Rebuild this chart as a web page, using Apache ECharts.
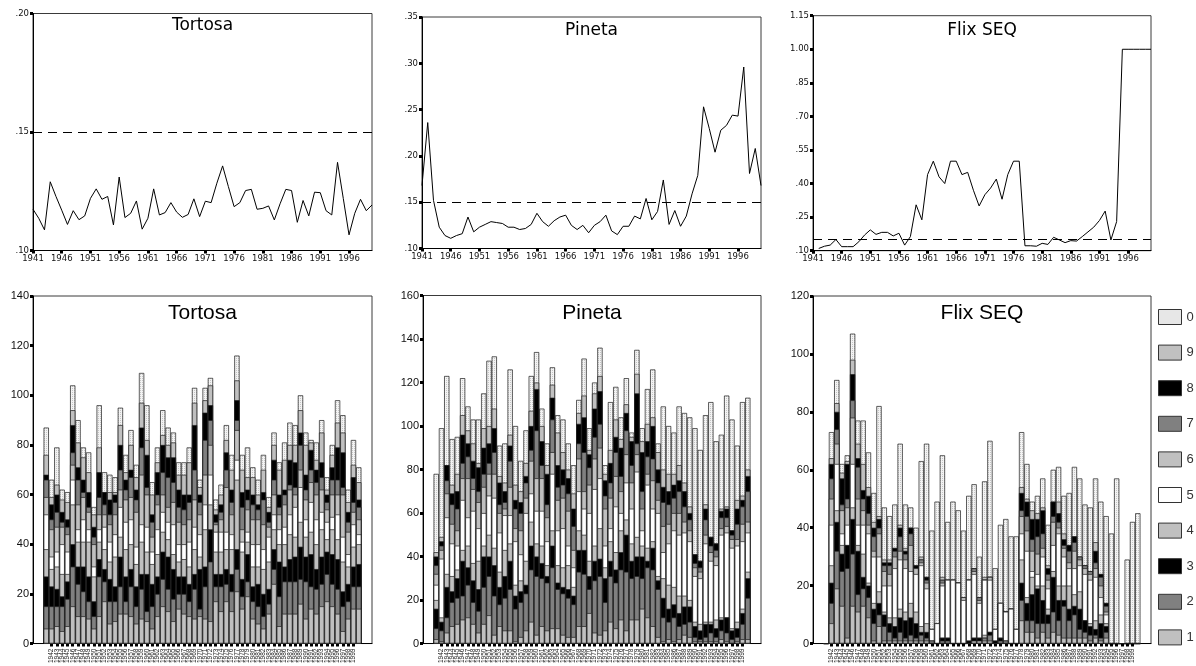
<!DOCTYPE html>
<html><head><meta charset="utf-8">
<script src="https://cdn.jsdelivr.net/npm/echarts@6/dist/echarts.min.js"></script>
<style>html,body{margin:0;padding:0;background:#fff}#c{width:1196px;height:666px}</style>
</head><body><div id="c"></div>
<script>
// ---------- categories ----------
const years = ['1941','1942','1943','1944','1945','1946','1947','1948','1949','1950',
'1951','1952','1953','1954','1955','1956','1957','1958','1959','1960',
'1961','1962','1963','1964','1965','1966','1967','1968','1969','1970',
'1971','1972','1973','1974','1975','1976','1977','1978','1979','1980',
'1981','1982','1983','1984','1985','1986','1987','1988','1989','1990',
'1991','1992','1993','1994','1995','1996','1997','1998','1999','2000'];
const stations = ['Tortosa','Pineta','Flix SEQ'];
const refLevel = 0.15;

// ---------- top row: ratio series ----------
const tortosaRatio = [.1174,.1136,.1087,.129,.1228,.117,.111,.1168,.113,.1146,
.122,.126,.1216,.1228,.1108,.131,.1139,.1157,.1209,.109,
.1136,.126,.115,.116,.1202,.1162,.114,.1152,.1218,.1143,
.1208,.1202,.1284,.1357,.127,.1185,.1202,.1253,.1258,.1174,
.1178,.1188,.1129,.1197,.1258,.1253,.1119,.1211,.1146,.1246,
.1244,.1168,.115,.1372,.122,.1066,.1157,.1216,.1168,.1192];
const pinetaRatio = [.168,.236,.152,.123,.114,.111,.114,.116,.134,.118,
.123,.126,.129,.128,.127,.123,.123,.1205,.1216,.126,
.138,.129,.124,.130,.134,.136,.125,.1205,.125,.117,
.125,.129,.136,.119,.115,.124,.124,.135,.132,.154,
.131,.140,.174,.126,.141,.124,.135,.159,.179,.253,
.2295,.204,.2277,.233,.244,.243,.296,.181,.208,.168];
const flixRatio = [null,.11,.12,.125,.15,.118,.118,.118,.14,.17,
.193,.173,.182,.182,.166,.178,.125,.163,.305,.238,
.44,.50,.43,.40,.50,.50,.44,.45,.37,.30,
.35,.38,.42,.33,.44,.50,.50,.122,.122,.12,
.133,.128,.16,.148,.136,.145,.143,.163,.184,.205,
.235,.277,.148,.23,1.0,1.0,1.0,1.0,1.0,1.0];

// ---------- bottom row: upper edge of digit classes 1..9 and bar total (class 0 on top), per year ----------
const tortosaEdges = [
[6,15,27,38,52,59,66,68,76,87],[6,15,23,30,35,46,50,56,59,66],[7,15,22,31,37,47,53,60,64,79],[5,15,19,28,40,47,49,53,58,62],
[7,18,25,28,37,44,47,50,57,61],[15,31,40,56,66,72,77,88,94,104],[11,24,31,41,46,56,66,71,81,90],[11,21,31,41,50,59,61,66,75,79],
[10,17,27,41,46,53,55,61,69,77],[6,11,17,27,31,40,43,47,52,55],[11,27,34,41,46,52,59,69,79,96],[17,25,30,38,47,52,56,61,61,69],
[8,17,26,33,41,48,52,58,61,68],[9,17,23,35,44,52,57,60,61,67],[12,23,35,43,55,62,70,80,88,95],[12,17,27,38,49,58,62,66,69,76],
[11,23,30,40,50,59,67,70,80,86],[8,15,23,32,39,53,58,62,67,72],[10,22,28,41,48,68,79,87,97,109],[9,13,28,37,47,60,63,76,82,96],
[6,15,24,32,37,43,49,52,60,65],[11,20,27,36,46,56,60,69,73,79],[15,26,37,45,53,60,69,80,84,94],[13,22,35,42,49,55,67,75,80,87],
[9,18,30,36,48,57,65,75,81,85],[14,20,27,33,40,49,55,62,68,73],[12,20,27,34,40,48,54,60,68,73],[11,17,24,31,41,50,57,60,73,79],
[10,22,28,38,47,58,70,88,97,103],[11,14,30,35,44,52,57,60,63,66],[10,23,31,46,56,68,82,93,98,103],[9,33,46,56,68,80,90,96,104,107],
[17,23,28,37,45,48,49,52,54,58],[13,23,28,37,45,50,53,56,60,64],[17,24,30,38,45,63,70,77,82,88],[13,21,28,38,44,52,57,62,70,76],
[21,30,38,66,74,86,90,98,106,116],[14,19,26,37,41,46,55,61,70,76],[19,25,36,41,45,54,58,62,67,79],[10,17,23,31,40,50,56,60,67,71],
[8,15,24,31,40,50,54,56,60,66],[6,11,20,30,38,48,58,61,70,76],[12,16,22,33,43,47,49,53,55,59],[24,30,38,46,52,60,66,74,80,85],
[7,19,33,40,46,52,55,60,70,73],[12,25,31,40,47,56,60,62,74,81],[12,25,34,44,52,62,64,74,80,89],[12,25,35,43,55,60,63,73,80,88],
[16,26,39,49,63,70,80,85,94,100],[10,25,35,43,50,58,62,68,80,85],[14,23,36,45,57,65,70,78,81,82],[12,22,30,40,50,60,65,70,74,81],
[15,24,35,46,53,62,67,73,85,90],[17,28,37,42,49,54,57,60,62,67],[15,24,36,46,51,60,66,71,76,80],[12,22,34,42,52,60,66,79,89,98],
[5,15,21,33,43,60,63,77,85,92],[10,17,24,31,36,45,49,53,57,62],[14,23,31,39,48,53,57,67,72,82],[14,23,32,40,44,50,55,58,65,71]];

const pinetaEdges = [
[2,7,16,20,27,32,36,40,42,78],[1,6,10,12,39,43,45,47,49,99],[5,12,26,32,58,69,75,82,82,123],[8,19,24,31,46,55,64,69,73,94],
[9,21,30,34,45,52,62,70,78,95],[11,22,38,43,66,76,83,96,105,122],[12,27,35,45,58,76,86,92,98,109],[9,19,29,37,61,71,76,84,92,103],
[5,15,25,38,53,65,70,81,83,103],[9,26,40,45,60,72,78,90,99,115],[13,31,40,50,68,78,83,92,100,130],[4,22,36,44,67,78,88,99,108,132],
[8,18,26,33,51,60,64,74,77,91],[6,21,31,43,59,62,65,70,74,92],[6,25,38,46,59,72,84,91,96,126],[1,16,22,27,47,53,62,66,73,100],
[3,19,24,29,41,52,60,65,70,84],[6,23,27,38,60,67,74,77,83,98],[10,34,45,56,69,84,89,100,107,123],[4,31,40,46,61,76,98,117,120,134],
[8,30,37,45,61,76,82,93,100,108],[6,28,31,36,47,58,64,78,82,92],[7,35,45,52,78,88,103,113,119,127],[7,25,28,36,52,66,72,82,97,105],
[4,23,26,35,53,67,73,80,88,103],[3,21,25,36,45,61,69,76,80,92],[3,18,22,26,35,43,54,62,69,82],[8,33,43,52,70,85,92,101,106,112],
[8,32,43,50,62,70,88,104,114,131],[14,25,31,38,60,73,81,87,89,99],[5,29,38,45,71,85,95,108,115,120],[4,31,39,53,76,90,101,116,123,136],
[6,19,30,35,45,62,68,75,78,82],[10,31,38,47,53,67,74,83,89,111],[7,28,34,42,63,77,88,95,103,118],[11,34,42,52,60,70,77,90,94,104],
[6,33,50,57,74,87,98,106,110,122],[11,30,38,46,62,74,82,93,95,97],[11,31,40,49,79,87,92,115,124,135],[16,30,40,45,52,62,70,88,93,99],
[12,35,38,44,73,78,86,93,101,117],[8,34,44,47,62,75,85,100,104,126],[3,25,29,31,60,66,74,80,88,92],[1,12,21,30,42,54,65,72,80,109],
[2,10,16,27,46,55,64,70,78,100],[1,12,18,26,52,60,67,73,78,97],[2,8,14,22,50,60,70,75,82,109],[4,9,17,22,51,56,63,70,74,106],
[3,10,17,20,47,52,57,60,63,104],[1,3,8,10,31,35,37,41,41,99],[1,2,6,9,30,33,35,38,38,89],[1,3,9,10,46,50,57,62,64,105],
[1,5,9,10,38,42,45,49,49,111],[1,3,7,11,36,40,43,46,46,93],[2,6,11,12,50,53,58,61,62,96],[1,5,12,12,51,54,58,62,63,114],
[0,2,6,7,44,48,50,52,52,103],[1,3,7,10,45,48,55,62,66,91],[2,9,14,16,47,55,63,66,68,111],[2,21,30,33,51,56,70,77,80,113]];

const flixEdges = [
[0,0,0,0,0,0,0,0,0,0],[7,14,21,27,41,50,57,62,64,73],[19,32,42,46,62,69,74,80,83,91],[13,25,31,34,38,46,48,57,59,62],
[2,26,34,34,41,47,50,62,63,65],[13,31,43,47,62,78,84,93,98,107],[11,17,32,34,41,50,61,64,69,77],[13,19,23,31,41,46,50,53,62,77],
[9,16,20,21,38,41,45,51,54,66],[1,7,12,14,30,32,37,40,42,52],[6,10,14,18,30,38,40,43,44,82],[1,6,10,11,20,25,27,28,29,47],
[1,4,7,9,20,24,27,28,29,44],[1,2,6,9,26,30,32,33,33,48],[1,4,9,12,29,32,37,40,41,69],[1,2,8,11,26,29,31,32,33,48],
[1,3,9,14,25,34,38,40,40,47],[1,2,7,11,24,26,26,27,27,40],[1,3,4,6,27,28,29,29,30,63],[1,2,4,7,19,21,22,23,23,69],
[0,1,1,1,5,5,5,5,5,39],[0,0,0,0,7,7,7,7,7,49],[0,1,2,2,20,21,22,22,23,65],[0,1,2,2,22,22,22,22,22,42],
[0,0,0,0,22,22,22,22,22,49],[0,0,0,0,21,21,21,21,21,46],[0,0,0,0,15,16,16,16,16,39],[0,0,1,1,22,22,22,22,22,51],
[1,1,2,2,24,25,26,26,26,55],[1,1,2,2,14,15,16,16,16,30],[1,2,2,3,22,22,22,22,23,56],[1,3,4,4,22,23,23,23,23,70],
[0,0,1,1,5,5,5,5,5,26],[0,1,2,2,14,14,14,14,14,41],[0,1,1,1,11,11,11,11,11,43],[0,0,0,0,12,12,12,12,12,37],
[0,0,0,0,5,5,5,5,5,37],[8,15,21,29,38,44,46,52,54,73],[4,8,14,16,32,39,44,49,50,62],[4,8,17,23,25,32,36,43,46,49],
[2,7,19,20,24,31,37,43,45,51],[4,7,15,20,30,33,38,46,47,57],[2,7,10,12,19,22,24,26,27,41],[4,11,23,25,34,42,44,49,49,60],
[3,8,15,20,38,40,42,45,49,61],[2,13,15,20,30,33,34,36,38,51],[2,8,12,20,26,28,32,34,34,52],[2,10,13,17,26,32,35,37,37,61],
[2,5,12,18,27,29,30,30,30,57],[2,4,8,8,24,26,27,27,27,48],[1,3,6,7,22,24,25,25,25,47],[2,3,5,8,23,26,28,32,35,57],
[1,2,7,10,16,20,23,24,24,49],[2,4,6,7,10,11,13,14,14,44],[0,0,0,0,0,0,0,0,0,38],[0,0,0,0,0,0,0,0,0,57],
[0,0,0,0,0,0,0,0,0,0],[0,0,0,0,0,0,0,0,0,29],[0,0,0,0,0,0,0,0,0,42],[0,0,0,0,0,0,0,0,0,45]];

const classNames = ['0','9','8','7','6','5','4','3','2','1']; // legend order, also back-to-front draw order
const classEdgeIndex = {'1':0,'2':1,'3':2,'4':3,'5':4,'6':5,'7':6,'8':7,'9':8,'0':9};

// ---------- styling ----------
function makeDots(){
  const c = document.createElement('canvas'); c.width = 2; c.height = 2;
  const g = c.getContext('2d');
  g.fillStyle = '#f3f3f3'; g.fillRect(0,0,2,2);
  g.fillStyle = '#c6c6c6'; g.fillRect(0,0,1,1);
  return c;
}
const dotted = {image: makeDots(), repeat: 'repeat'};
const classColor = {'1':'#c0c0c0','2':'#808080','3':'#000000','4':'#c0c0c0','5':'#ffffff',
                    '6':'#c0c0c0','7':'#808080','8':'#000000','9':'#c0c0c0','0':dotted};

const topGrids = [
  {left:33, top:13.5, width:339, height:237},
  {left:422, top:17, width:339, height:231.5},
  {left:813, top:15.7, width:338, height:235}
];
const topY = [
  {min:0.10, max:0.20, interval:0.05},
  {min:0.10, max:0.35, interval:0.05},
  {min:0.10, max:1.15, interval:0.15}
];
const botGrids = [
  {left:33, top:296, width:339, height:349},
  {left:423, top:295.5, width:338, height:349.5},
  {left:813, top:296, width:338, height:350}
];
const botMax = [140, 160, 120];
const ratios = [tortosaRatio, pinetaRatio, flixRatio];
const edges = [tortosaEdges, pinetaEdges, flixEdges];

const PAD = 2;
const padCats = ['',''].concat(years).concat(['','']);
function pad(arr){ return [null,null].concat(arr).concat([null,null]); }
const fmtRatio = v => { const s = (Math.round(v*100)/100).toFixed(2); return s.charAt(0)==='0' ? s.slice(1) : s; };

const grid = [], xAxis = [], yAxis = [], series = [], graphic = [];

topGrids.forEach((g,i) => {
  grid.push(Object.assign({show:true, borderColor:'#3a3a3a', borderWidth:1, backgroundColor:'transparent'}, g));
  xAxis.push({gridIndex:i, type:'category', data:years, boundaryGap:false,
    axisLine:{show:true, lineStyle:{color:'#000', width:1}},
    axisTick:{show:true, interval:4, length:3, lineStyle:{color:'#000', width:3}},
    axisLabel:{interval:4, fontFamily:'DejaVu Sans', fontSize:8.5, color:'#111', margin:4},
    splitLine:{show:false}});
  yAxis.push(Object.assign({gridIndex:i, type:'value',
    axisLine:{show:true, lineStyle:{color:'#000', width:1}},
    axisTick:{show:true, length:3, lineStyle:{color:'#000', width:3}},
    axisLabel:{formatter:fmtRatio, fontFamily:'DejaVu Sans', fontSize:8.5, color:'#111', margin:4},
    splitLine:{show:false}}, topY[i]));
  series.push({type:'line', name:stations[i]+' ratio', xAxisIndex:i, yAxisIndex:i, data:ratios[i],
    symbol:'none', lineStyle:{color:'#000', width:1}, itemStyle:{color:'#000'}, z:5,
    markLine:{silent:true, symbol:['none','none'], label:{show:false},
      lineStyle:{color:'#000', width:1, type:[9,6]}, data:[{yAxis:refLevel}]}});
  graphic.push({type:'text', x:g.left + g.width/2, y: i===0 ? 26 : 31, z:10,
    style:{text:stations[i], font:'17px "DejaVu Sans"', fill:'#000', align:'center', verticalAlign:'middle',
           textAlign:'center', textVerticalAlign:'middle'}});
});

botGrids.forEach((g,j) => {
  const k = j + 3;
  grid.push(Object.assign({show:true, borderColor:'#3a3a3a', borderWidth:1, backgroundColor:'transparent'}, g));
  xAxis.push({gridIndex:k, type:'category', data:padCats, boundaryGap:true,
    axisLine:{show:true, lineStyle:{color:'#000', width:1}},
    axisTick:{show:true, alignWithLabel:true, length:3, lineStyle:{color:'#000', width:3},
      interval:(idx) => idx >= PAD && idx < PAD + years.length},
    axisLabel:{interval:(idx) => idx >= PAD && idx < PAD + years.length, rotate:90,
      fontFamily:'Liberation Sans', fontSize:6.5, color:'#222', margin:5},
    splitLine:{show:false}});
  yAxis.push({gridIndex:k, type:'value', min:0, max:botMax[j], interval:20,
    axisLine:{show:true, lineStyle:{color:'#000', width:1}},
    axisTick:{show:true, length:3, lineStyle:{color:'#000', width:3}},
    axisLabel:{fontFamily:'Liberation Sans', fontSize:11, color:'#111', margin:4},
    splitLine:{show:false}});
  classNames.forEach(name => {
    const idx = classEdgeIndex[name];
    series.push({type:'bar', name:name, xAxisIndex:k, yAxisIndex:k,
      data: pad(edges[j].map(r => r[idx])),
      barGap:'-100%', barCategoryGap:'0%',
      itemStyle:{color:classColor[name], borderColor:'#1e1e1e', borderWidth:0.7},
      emphasis:{disabled:true}});
  });
  graphic.push({type:'text', x:g.left + g.width/2, y:313, z:10,
    style:{text:stations[j], font:'21px "Liberation Sans"', fill:'#000', align:'center', verticalAlign:'middle',
           textAlign:'center', textVerticalAlign:'middle'}});
});

const chart = echarts.init(document.getElementById('c'), null, {renderer:'canvas'});
chart.setOption({
  animation:false,
  backgroundColor:'#fff',
  grid, xAxis, yAxis, series, graphic,
  legend:{show:true, orient:'vertical', left:1158, top:309, padding:0, itemWidth:23, itemHeight:15, itemGap:19.6,
    icon:'rect', data:classNames, selectedMode:false,
    textStyle:{fontFamily:'Liberation Sans', fontSize:13, color:'#333'},
    itemStyle:{borderColor:'#333', borderWidth:1}}
});
</script>
</body></html>
